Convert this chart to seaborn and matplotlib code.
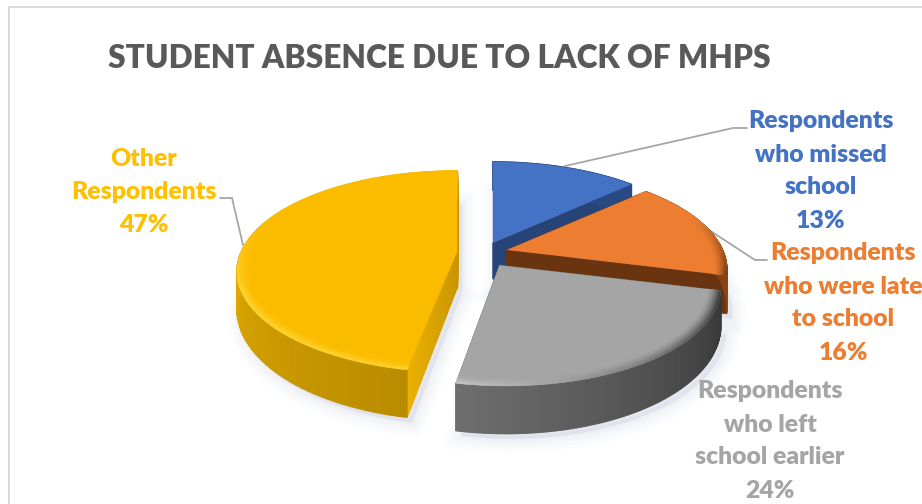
import numpy as np
import matplotlib
matplotlib.use("Agg")
import matplotlib.pyplot as plt
from matplotlib.collections import PolyCollection
from matplotlib.colors import to_rgb
import seaborn as sns

# Survey shares, clockwise from twelve o'clock
categories = ["Respondents who missed school", "Respondents who were late to school",
              "Respondents who left school earlier", "Other Respondents"]
shares = [13, 16, 24, 47]
label_lines = [["Respondents", "who missed", "school", "13%"],
               ["Respondents", "who were late", "to school", "16%"],
               ["Respondents", "who left", "school earlier", "24%"],
               ["Other", "Respondents", "47%"]]
title = "STUDENT ABSENCE DUE TO LACK OF MHPS"

top_colors = ["#4472C4", "#ED7D31", "#A5A5A5", "#FBBC00"]
text_colors = ["#4472C4", "#ED7D31", "#A5A5A5", "#FFC000"]
side_near = ["#2A4A86", "#7A3A12", "#353535", "#F0B400"]   # rim colour at the clockwise start
side_far = ["#2A4A86", "#8A4516", "#6E6E6E", "#B98C00"]    # rim colour towards the clockwise end
cut_colors = ["#264478", "#6B3410", "#6E6E6E", "#D8A200"]
bevel_colors = ["#4472C4", "#6B3410", "#3A3A3A", "#FFD22E"]
bevel_colors_end = ["#4472C4", "#6B3410", "#C4C4C4", "#FFD22E"]

# Perspective disc in figure pixels
CX, CY = 482.0, 253.0
RX, RY = 216.0, 97.0
TILT = 0.196
DEPTH = 36.0
EXPLODE = 0.125
ORDER = [0, 1, 3, 2]  # back slices first
X_SHIFT = [0, -1.5, 3, 2]
Y_SHIFT = [1, 0, 2, 0]
SHEAR = [0, 0, 0.055, 0]

sns.set_theme(style="white")
plt.rcParams["font.family"] = ["Lato", "DejaVu Sans"]
palette = sns.color_palette(top_colors)

fig = plt.figure(figsize=(9.22, 5.04), dpi=100, facecolor="white")
ax = fig.add_axes([0, 0, 1, 1])
ax.set_xlim(0, 922)
ax.set_ylim(504, 0)
ax.axis("off")

# Chart frame, running past the right and bottom edges
ax.plot([8.5, 8.5, 930], [510, 6.5, 6.5], color="#D9D9D9", lw=1.4, zorder=1)


def project(t, r=1.0, shear=0.0):
    w = 1 + TILT * r * np.sin(t)
    y = -RY * r * np.sin(t) / w
    return RX * r * np.cos(t) / w + shear * y, y, w


def mix(a, b, s):
    a, b = np.array(to_rgb(a)), np.array(to_rgb(b))
    return tuple(a + (b - a) * float(np.clip(s, 0, 1)))


def quads(ax_, polys, colors, z, lw=0.9):
    ax_.add_collection(PolyCollection(polys, facecolors=colors, edgecolors=colors,
                                      linewidths=lw, zorder=z))


fractions = np.array(shares) / sum(shares)
ends = np.cumsum(fractions)
starts = ends - fractions
z = 10
for i in ORDER:
    t0 = np.pi / 2 - 2 * np.pi * starts[i]
    t1 = np.pi / 2 - 2 * np.pi * ends[i]
    mid = (t0 + t1) / 2
    ax0 = CX + EXPLODE * RX * np.cos(mid) + X_SHIFT[i]
    ay0 = CY - EXPLODE * RY * np.sin(mid) + Y_SHIFT[i]
    ts = np.linspace(t0, t1, 90)
    px, py, w = project(ts, shear=SHEAR[i])
    rim_x, rim_y = ax0 + px, ay0 + py
    drop = DEPTH / w ** 1.3
    apex_drop = DEPTH

    # Soft shadow under the body
    sil_x = np.r_[ax0, rim_x]
    sil_y = np.r_[ay0 + apex_drop, rim_y + drop]
    for lw in (20, 15, 10, 6, 3):
        ax.fill(sil_x + 5, sil_y + 5, color="#7F8FB0", alpha=0.022, lw=lw, zorder=z)
    z += 1

    # Flat cut faces on both radial edges
    for end_idx in (0, -1):
        ex, ey, ed = rim_x[end_idx], rim_y[end_idx], drop[end_idx]
        if i == 3:
            # the long front face brightens toward the centre
            ss = np.linspace(0, 1, 41)
            polys, cols = [], []
            for a, b in zip(ss[:-1], ss[1:]):
                polys.append([(ax0 + (ex - ax0) * a, ay0 + (ey - ay0) * a),
                              (ax0 + (ex - ax0) * b, ay0 + (ey - ay0) * b),
                              (ax0 + (ex - ax0) * b, ay0 + (ey - ay0) * b + apex_drop + (ed - apex_drop) * b),
                              (ax0 + (ex - ax0) * a, ay0 + (ey - ay0) * a + apex_drop + (ed - apex_drop) * a)])
                cols.append(mix("#C99600", "#EDB200", a if end_idx == 0 else 0))
            quads(ax, polys, cols, z)
        else:
            ax.fill([ax0, ex, ex, ax0], [ay0, ey, ey + ed, ay0 + apex_drop],
                    color=cut_colors[i], lw=0.5, zorder=z)
    z += 1

    # Outer rim, shaded along the arc
    polys, cols = [], []
    for j in range(len(ts) - 1):
        polys.append([(rim_x[j], rim_y[j]), (rim_x[j + 1], rim_y[j + 1]),
                      (rim_x[j + 1], rim_y[j + 1] + drop[j + 1]), (rim_x[j], rim_y[j] + drop[j])])
        cols.append(mix(side_near[i], side_far[i], j / (len(ts) - 2)) if i != 3
                    else mix(side_far[i], side_near[i], j / (len(ts) - 2) * 1.6))
    quads(ax, polys, cols, z)
    z += 1

    # Top face
    ax.fill(np.r_[ax0, rim_x], np.r_[ay0, rim_y], color=palette[i], lw=0, zorder=z)
    z += 1

    # Bevel along the front of the top face
    rings = np.linspace(0.94, 1.0, 7)
    polys, cols = [], []
    for ra, rb in zip(rings[:-1], rings[1:]):
        xa, ya, _ = project(ts, ra, SHEAR[i])
        xb, yb, _ = project(ts, rb, SHEAR[i])
        for j in range(len(ts) - 1):
            front = np.clip((0.35 - np.sin(ts[j])) / 0.7, 0, 1)
            along = j / (len(ts) - 2)
            strength = front * ((ra - 0.94) / 0.05) ** 1.5
            bev = mix(bevel_colors[i], bevel_colors_end[i], along)
            if i == 3:
                strength *= 0.55 + 0.45 * (1 - abs(along - 0.25))
            polys.append([(ax0 + xa[j], ay0 + ya[j]), (ax0 + xb[j], ay0 + yb[j]),
                          (ax0 + xb[j + 1], ay0 + yb[j + 1]), (ax0 + xa[j + 1], ay0 + ya[j + 1])])
            cols.append(mix(palette[i], bev, strength))
    if i in (1, 2, 3):
        quads(ax, polys, cols, z, lw=0.4)
    z += 1

# Leader lines from the slices to their labels
leaders = [([565, 733, 747], [166, 128, 128]),
           ([706, 755, 767], [228, 260, 260]),
           ([243, 232, 220], [245, 198, 198])]
for xs, ys in leaders:
    ax.plot(xs, ys, color="#A6A6A6", lw=1.3, zorder=5, solid_joinstyle="miter")

ax.text(439, 59, title, ha="center", va="center", fontsize=22.8, fontweight="heavy", color="#595959", zorder=200)

label_centres = [(821, 121.5), (843, 253.5), (770, 391.5), (144, 159)]
for (x, y0), lines, colour in zip(label_centres, label_lines, text_colors):
    for k, line in enumerate(lines):
        ax.text(x, y0 + 33 * k, line, ha="center", va="center", fontsize=17.8, fontweight="heavy",
                color=colour, zorder=200)

fig.savefig("out.png", dpi=100, facecolor="white")
